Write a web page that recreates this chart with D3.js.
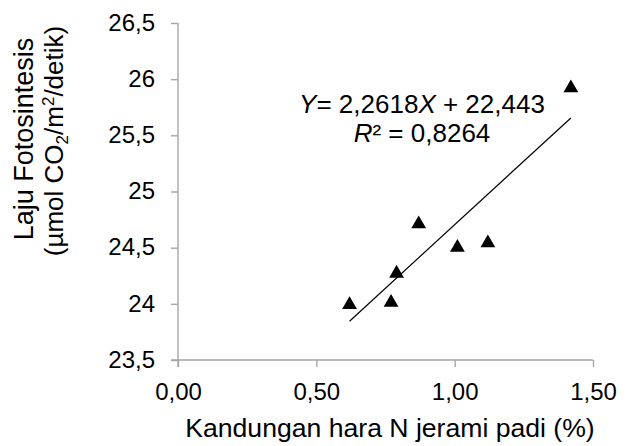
<!DOCTYPE html>
<html>
<head>
<meta charset="utf-8">
<script src="https://cdn.jsdelivr.net/npm/d3@7"></script>
<style>
  body { margin: 0; background: #fff; }
  svg { display: block; font-family: "Liberation Sans", Arial, sans-serif; }
  .axis path, .axis line { stroke: #a6a6a6; stroke-width: 1.4; }
  .axis text { fill: #000; font-size: 24px; }
</style>
</head>
<body>
<div id="chart"></div>
<script>
// N content of rice straw (%) vs photosynthesis rate
const nContent = [0.62, 0.77, 0.79, 0.87, 1.01, 1.12, 1.42];
const photoRate = [24.0, 24.02, 24.28, 24.72, 24.51, 24.55, 25.93];
const xTicks = [0, 0.5, 1.0, 1.5];
const yTicks = [23.5, 24, 24.5, 25, 25.5, 26, 26.5];
const slope = 2.2618;
const intercept = 22.443;
const rSquared = "0,8264";

const width = 627;
const height = 446;
const margin = { top: 23, right: 34, bottom: 86, left: 178 };

const commaFmt = (f) => (d) => d3.format(f)(d).replace(".", ",");

const x = d3
  .scaleLinear()
  .domain([0, 1.5])
  .range([margin.left, width - margin.right]);
const y = d3
  .scaleLinear()
  .domain([23.5, 26.5])
  .range([height - margin.bottom, margin.top]);

const svg = d3
  .select("#chart")
  .append("svg")
  .attr("width", width)
  .attr("height", height);

svg
  .append("g")
  .attr("class", "axis x-axis")
  .attr("transform", `translate(0,${y(23.5)})`)
  .call(
    d3.axisBottom(x).tickValues(xTicks).tickFormat(commaFmt(".2f")).tickSize(7).tickSizeOuter(0).tickPadding(16)
  )
  .call((g) => g.select(".domain").attr("d", `M${x(0) - 7},0H${x(1.5)}`));

svg
  .append("g")
  .attr("class", "axis y-axis")
  .attr("transform", `translate(${x(0)},0)`)
  .call(
    d3
      .axisLeft(y)
      .tickValues(yTicks)
      .tickFormat((d) => (Number.isInteger(d) ? d : commaFmt(".1f")(d)))
      .tickSize(7)
      .tickSizeOuter(0)
      .tickPadding(16)
  )
  .call((g) => g.select(".domain").attr("d", `M0,${y(26.5)}V${y(23.5) + 7}`));

svg.selectAll(".axis text").attr("dy", "0.3em");
svg.selectAll(".x-axis text").attr("dy", "0.71em");

// trend line
const xExt = d3.extent(nContent);
const line = d3
  .line()
  .x((d) => x(d))
  .y((d) => y(slope * d + intercept));
svg
  .append("path")
  .attr("d", line(xExt))
  .attr("fill", "none")
  .attr("stroke", "#000")
  .attr("stroke-width", 1.2);

// markers
const tri = d3.symbol().type(d3.symbolTriangle).size(95);
svg
  .append("g")
  .selectAll("path")
  .data(nContent.map((d, i) => [d, photoRate[i]]))
  .join("path")
  .attr("d", tri)
  .attr("transform", (d) => `translate(${x(d[0])},${y(d[1]) + 1})`)
  .attr("fill", "#000");

// equation
const eq = svg
  .append("text")
  .attr("text-anchor", "middle")
  .attr("font-size", 26)
  .attr("x", 422);
const l1 = eq.append("tspan").attr("x", 422).attr("y", 113);
l1.append("tspan").attr("font-style", "italic").text("Y");
l1.append("tspan").text(`= ${String(slope).replace(".", ",")}`);
l1.append("tspan").attr("font-style", "italic").text("X");
l1.append("tspan").text(` + ${String(intercept).replace(".", ",")}`);
const l2 = eq.append("tspan").attr("x", 422).attr("y", 142);
l2.append("tspan").attr("font-style", "italic").text("R");
l2.append("tspan").text(`² = ${rSquared}`);

// axis titles
svg
  .append("text")
  .attr("x", 390)
  .attr("y", 437)
  .attr("text-anchor", "middle")
  .attr("font-size", 26.6)
  .text("Kandungan hara N jerami padi (%)");

const yTitle = svg
  .append("text")
  .attr("transform", "rotate(-90)")
  .attr("text-anchor", "middle")
  .attr("font-size", 26);
yTitle.append("tspan").attr("x", -139).attr("y", 33).attr("font-size", 27).text("Laju Fotosintesis");
const yl2 = yTitle.append("tspan").attr("x", -141).attr("y", 63);
yl2.append("tspan").text("(µmol CO");
yl2.append("tspan").attr("font-size", 17).attr("dy", 5).text("2");
yl2.append("tspan").attr("dy", -5).text("/m");
yl2.append("tspan").attr("font-size", 17).attr("dy", -9).text("2");
yl2.append("tspan").attr("dy", 9).text("/detik)");
</script>
</body>
</html>
